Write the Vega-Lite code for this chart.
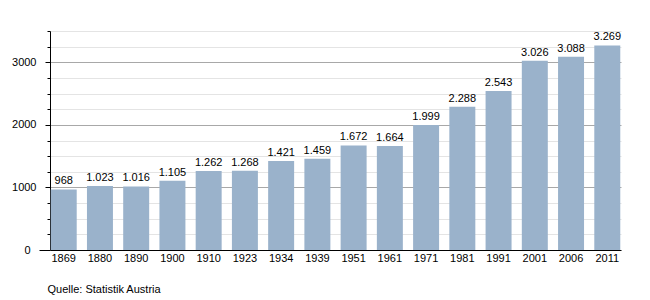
{
  "$schema": "https://vega.github.io/schema/vega-lite/v6.json",
  "autosize": "none",
  "padding": {"left": 50, "top": 31, "right": 29, "bottom": 50},
  "width": 571,
  "height": 219,
  "background": "white",
  "data": {"values": [
    {"year": "1869", "pop": 968, "label": "968"},
    {"year": "1880", "pop": 1023, "label": "1.023"},
    {"year": "1890", "pop": 1016, "label": "1.016"},
    {"year": "1900", "pop": 1105, "label": "1.105"},
    {"year": "1910", "pop": 1262, "label": "1.262"},
    {"year": "1923", "pop": 1268, "label": "1.268"},
    {"year": "1934", "pop": 1421, "label": "1.421"},
    {"year": "1939", "pop": 1459, "label": "1.459"},
    {"year": "1951", "pop": 1672, "label": "1.672"},
    {"year": "1961", "pop": 1664, "label": "1.664"},
    {"year": "1971", "pop": 1999, "label": "1.999"},
    {"year": "1981", "pop": 2288, "label": "2.288"},
    {"year": "1991", "pop": 2543, "label": "2.543"},
    {"year": "2001", "pop": 3026, "label": "3.026"},
    {"year": "2006", "pop": 3088, "label": "3.088"},
    {"year": "2011", "pop": 3269, "label": "3.269"}
  ]},
  "config": {
    "view": {"stroke": null},
    "font": "Liberation Sans"
  },
  "encoding": {
    "x": {
      "field": "year", "type": "ordinal", "sort": null,
      "scale": {"paddingInner": 0.283, "paddingOuter": 0.02},
      "axis": {
        "title": "Quelle: Statistik Austria",
        "titleFont": "Liberation Sans", "titleFontSize": 11, "titleFontWeight": "normal", "titleColor": "black",
        "titleX": -3, "titleY": 42, "titleAlign": "left", "titleBaseline": "alphabetic", "titleAnchor": "start",
        "labelAngle": 0, "labelFontSize": 11, "labelColor": "black", "labelPadding": 2,
        "ticks": false, "domainColor": "black", "domainWidth": 1, "grid": false
      }
    },
    "y": {
      "field": "pop", "type": "quantitative",
      "scale": {"domain": [0, 3500], "nice": false},
      "axis": {
        "title": null,
        "values": [0, 250, 500, 750, 1000, 1250, 1500, 1750, 2000, 2250, 2500, 2750, 3000, 3250, 3500],
        "format": "d",
        "labelExpr": "datum.value % 1000 === 0 ? datum.label : ''",
        "labelFontSize": 11, "labelColor": "black", "labelPadding": 9,
        "grid": true,
        "gridColor": {"condition": {"test": "datum.value % 1000 === 0 && datum.value > 0", "value": "#a8a8a8"}, "value": "#e4e4e4"},
        "tickColor": "black",
        "tickSize": {"condition": [{"test": "datum.value === 0", "value": 11}, {"test": "datum.value % 1000 === 0", "value": 5}], "value": 3},
        "domainColor": "black"
      }
    }
  },
  "layer": [
    {"mark": {"type": "bar", "color": "#9ab2cb"}},
    {
      "mark": {"type": "text", "baseline": "alphabetic", "dy": -5, "fontSize": 11, "color": "black", "font": "Liberation Sans"},
      "encoding": {"text": {"field": "label"}}
    }
  ]
}
